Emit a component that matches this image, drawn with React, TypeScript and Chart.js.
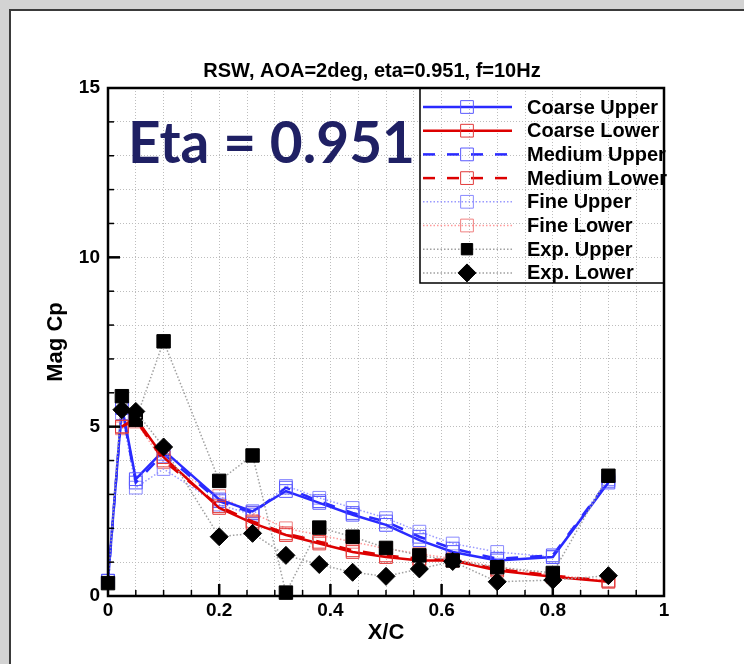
import React, { useEffect, useRef } from 'react';
import { Chart, registerables } from 'chart.js';

Chart.register(...registerables);

const W = 744;
const H = 664;

// ---- data ----
const xUpper = [0, 0.025, 0.05, 0.1, 0.2, 0.26, 0.32, 0.38, 0.44, 0.5, 0.56, 0.62, 0.7, 0.8, 0.9];
const xLower = [0.025, 0.05, 0.1, 0.2, 0.26, 0.32, 0.38, 0.44, 0.5, 0.56, 0.62, 0.7, 0.8, 0.9];

const coarseUpper = [0.45, 5.6, 3.45, 4.3, 2.85, 2.5, 3.1, 2.75, 2.4, 2.1, 1.65, 1.3, 1.05, 1.15, 3.35];
const mediumUpper = [0.45, 5.55, 3.35, 4.2, 2.8, 2.45, 3.2, 2.8, 2.45, 2.2, 1.75, 1.4, 1.1, 1.2, 3.4];
const fineUpper = [0.45, 5.4, 3.2, 3.75, 2.7, 2.4, 3.25, 2.9, 2.6, 2.3, 1.9, 1.55, 1.3, 1.15, 3.45];

const coarseLower = [5.0, 5.25, 4.1, 2.6, 2.15, 1.8, 1.55, 1.3, 1.15, 1.05, 1.05, 0.75, 0.57, 0.42];
const mediumLower = [5.0, 5.2, 4.0, 2.65, 2.2, 1.85, 1.6, 1.35, 1.2, 1.1, 1.05, 0.8, 0.6, 0.45];
const fineLower = [4.95, 5.15, 3.95, 2.95, 2.45, 2.0, 1.8, 1.6, 1.4, 1.25, 1.1, 0.85, 0.62, 0.45];

const expUpper = [0.38, 5.9, 5.2, 7.52, 3.4, 4.15, 0.1, 2.02, 1.75, 1.42, 1.2, 1.05, 0.85, 0.68, 3.55];
const expLower = [5.5, 5.45, 4.4, 1.75, 1.85, 1.2, 0.93, 0.7, 0.58, 0.8, 1.02, 0.42, 0.47, 0.6];

const xTickLabels = ['0', '0.2', '0.4', '0.6', '0.8', '1'];
const yTickLabels = ['0', '5', '10', '15'];

const titleText = 'RSW, AOA=2deg, eta=0.951, f=10Hz';
const etaText = 'Eta = 0.951';

// ---- styles ----
const BLUE = '#2a2aff';
const RED = '#dd0000';
const FONT = '"Liberation Sans", Arial, sans-serif';

const pts = (xs: number[], ys: number[]) => xs.map((x, i) => ({ x, y: ys[i] }));

function drawMarker(ctx: CanvasRenderingContext2D, style: string, x: number, y: number, r: number, stroke: string, fill: string, lw: number) {
  ctx.save();
  ctx.lineWidth = lw;
  ctx.strokeStyle = stroke;
  ctx.fillStyle = fill;
  ctx.setLineDash([]);
  ctx.beginPath();
  if (style === 'rectRot') {
    ctx.moveTo(x - r, y);
    ctx.lineTo(x, y - r);
    ctx.lineTo(x + r, y);
    ctx.lineTo(x, y + r);
    ctx.closePath();
  } else {
    const s = Math.SQRT1_2 * r;
    ctx.rect(x - s, y - s, 2 * s, 2 * s);
  }
  if (fill !== 'transparent') ctx.fill();
  ctx.stroke();
  ctx.restore();
}

const framePlugin = {
  id: 'frame',
  beforeDraw(chart: any) {
    const ctx = chart.ctx;
    ctx.save();
    ctx.fillStyle = '#d3d3d3';
    ctx.fillRect(0, 0, W, H);
    ctx.fillStyle = '#ffffff';
    ctx.fillRect(10, 10, W - 10, H - 10);
    ctx.strokeStyle = '#3a3a3a';
    ctx.lineWidth = 2;
    ctx.beginPath();
    ctx.moveTo(10, H);
    ctx.lineTo(10, 10);
    ctx.lineTo(W, 10);
    ctx.stroke();
    // title
    ctx.fillStyle = '#000';
    ctx.font = `bold 20px ${FONT}`;
    ctx.textAlign = 'center';
    ctx.textBaseline = 'alphabetic';
    ctx.fillText(titleText, 372, 77);
    ctx.restore();
  },
  beforeDatasetsDraw(chart: any) {
    const ctx = chart.ctx;
    ctx.save();
    ctx.font = 'bold 100px Lato, "Open Sans", sans-serif';
    const w100 = ctx.measureText(etaText).width;
    const size = (100 * 287) / w100;
    ctx.font = `bold ${size}px Lato, "Open Sans", sans-serif`;
    ctx.fillStyle = '#1f2064';
    ctx.textAlign = 'left';
    ctx.textBaseline = 'alphabetic';
    ctx.fillText(etaText, 128, 163);
    ctx.restore();
  },
  afterDatasetsDraw(chart: any) {
    const ctx = chart.ctx;
    const a = chart.chartArea;
    const xs = chart.scales.x;
    const ys = chart.scales.y;
    ctx.save();
    ctx.strokeStyle = '#000';
    ctx.setLineDash([]);
    // x ticks (inward)
    for (let i = 1; i < 20; i++) {
      const v = i * 0.05;
      const px = xs.getPixelForValue(v);
      const major = i % 4 === 0;
      ctx.lineWidth = major ? 2.5 : 1.5;
      ctx.beginPath();
      ctx.moveTo(px, a.bottom);
      ctx.lineTo(px, a.bottom - (major ? 12 : 6));
      ctx.stroke();
    }
    for (let i = 1; i < 15; i++) {
      const py = ys.getPixelForValue(i);
      const major = i % 5 === 0;
      ctx.lineWidth = major ? 2.5 : 1.5;
      ctx.beginPath();
      ctx.moveTo(a.left, py);
      ctx.lineTo(a.left + (major ? 12 : 6), py);
      ctx.stroke();
    }
    ctx.lineWidth = 2.5;
    ctx.strokeRect(a.left, a.top, a.right - a.left, a.bottom - a.top);
    ctx.restore();
  },
  afterDraw(chart: any) {
    const ctx = chart.ctx;
    const a = chart.chartArea;
    const left = 420;
    const bottom = 283;
    ctx.save();
    ctx.strokeStyle = '#000';
    ctx.lineWidth = 1.5;
    ctx.beginPath();
    ctx.moveTo(left, a.top);
    ctx.lineTo(left, bottom);
    ctx.lineTo(a.right, bottom);
    ctx.stroke();
    const dsets = chart.data.datasets;
    ctx.font = `bold 20px ${FONT}`;
    ctx.textAlign = 'left';
    ctx.textBaseline = 'middle';
    dsets.forEach((d: any, i: number) => {
      const y = 107 + i * 23.7;
      ctx.save();
      ctx.strokeStyle = d.borderColor;
      ctx.lineWidth = d.borderWidth;
      ctx.setLineDash(d.borderDash || []);
      ctx.beginPath();
      ctx.moveTo(423, y);
      ctx.lineTo(512, y);
      ctx.stroke();
      ctx.restore();
      drawMarker(ctx, d.pointStyle, 467, y, d.legendRadius, d.pointBorderColor, d.pointBackgroundColor, d.pointBorderWidth);
      ctx.fillStyle = '#000';
      ctx.fillText(d.label, 527, y + 1);
    });
    ctx.restore();
  },
};

export default function App() {
  const ref = useRef<HTMLCanvasElement | null>(null);

  useEffect(() => {
    if (!ref.current) return;
    const common = { showLine: true, clip: false as any, fill: false, tension: 0 };
    const chart = new Chart(ref.current, {
      type: 'scatter',
      data: {
        datasets: [
          { ...common, label: 'Coarse Upper', data: pts(xUpper, coarseUpper), borderColor: BLUE, borderWidth: 2.5, pointStyle: 'rect', pointRadius: 9, pointBorderColor: '#5a5aff', pointBackgroundColor: 'transparent', pointBorderWidth: 1, legendRadius: 9, order: 5 } as any,
          { ...common, label: 'Coarse Lower', data: pts(xLower, coarseLower), borderColor: RED, borderWidth: 2.5, pointStyle: 'rect', pointRadius: 9, pointBorderColor: '#e23a3a', pointBackgroundColor: 'transparent', pointBorderWidth: 1, legendRadius: 9, order: 4 } as any,
          { ...common, label: 'Medium Upper', data: pts(xUpper, mediumUpper), borderColor: BLUE, borderWidth: 2.5, borderDash: [12, 12], pointStyle: 'rect', pointRadius: 9, pointBorderColor: '#5a5aff', pointBackgroundColor: 'transparent', pointBorderWidth: 1, legendRadius: 9, order: 5 } as any,
          { ...common, label: 'Medium Lower', data: pts(xLower, mediumLower), borderColor: RED, borderWidth: 2.5, borderDash: [12, 12], pointStyle: 'rect', pointRadius: 9, pointBorderColor: '#e23a3a', pointBackgroundColor: 'transparent', pointBorderWidth: 1, legendRadius: 9, order: 4 } as any,
          { ...common, label: 'Fine Upper', data: pts(xUpper, fineUpper), borderColor: '#9a9aff', borderWidth: 1.5, borderDash: [1.5, 2], pointStyle: 'rect', pointRadius: 9, pointBorderColor: '#8a8aff', pointBackgroundColor: 'transparent', pointBorderWidth: 1, legendRadius: 9, order: 6 } as any,
          { ...common, label: 'Fine Lower', data: pts(xLower, fineLower), borderColor: '#ff9a9a', borderWidth: 1.5, borderDash: [1.5, 2], pointStyle: 'rect', pointRadius: 9, pointBorderColor: '#f08080', pointBackgroundColor: 'transparent', pointBorderWidth: 1, legendRadius: 9, order: 6 } as any,
          { ...common, label: 'Exp. Upper', data: pts(xUpper, expUpper), borderColor: '#a0a0a0', borderWidth: 1.5, borderDash: [1.5, 2], pointStyle: 'rect', pointRadius: 9.5, pointBorderColor: '#000', pointBackgroundColor: '#000', pointBorderWidth: 1, legendRadius: 8, order: 1 } as any,
          { ...common, label: 'Exp. Lower', data: pts(xLower, expLower), borderColor: '#a0a0a0', borderWidth: 1.5, borderDash: [1.5, 2], pointStyle: 'rectRot', pointRadius: 9, pointBorderColor: '#000', pointBackgroundColor: '#000', pointBorderWidth: 1, legendRadius: 9, order: 0 } as any,
        ],
      },
      options: {
        animation: false,
        responsive: false,
        events: [],
        layout: { padding: { top: 88, right: 80, left: 0, bottom: 0 } },
        plugins: { legend: { display: false }, tooltip: { enabled: false }, title: { display: false } },
        scales: {
          x: {
            type: 'linear',
            min: 0,
            max: 1,
            afterFit: (s: any) => { s.height = 68; },
            border: { display: false, dash: [1, 2] },
            grid: { color: '#bdbdbd', lineWidth: 1, drawTicks: false },
            ticks: {
              stepSize: 0.05,
              autoSkip: false,
              maxRotation: 0,
              padding: 3,
              color: '#000',
              font: { family: FONT, size: 19, weight: 'bold' },
              callback: (v: any) => {
                const s = String(Math.round(Number(v) * 100) / 100);
                return xTickLabels.includes(s) ? s : '';
              },
            },
            title: { display: true, text: 'X/C', color: '#000', font: { family: FONT, size: 22, weight: 'bold' }, padding: { top: 0, bottom: 18 } },
          },
          y: {
            type: 'linear',
            min: 0,
            max: 15,
            afterFit: (s: any) => { s.width = 108; },
            border: { display: false, dash: [1, 2] },
            grid: { color: '#bdbdbd', lineWidth: 1, drawTicks: false },
            ticks: {
              stepSize: 1,
              autoSkip: false,
              padding: 8,
              color: '#000',
              font: { family: FONT, size: 19, weight: 'bold' },
              callback: (v: any) => {
                const s = String(Math.round(Number(v)));
                return yTickLabels.includes(s) ? s : '';
              },
            },
            title: { display: true, text: 'Mag Cp', color: '#000', font: { family: FONT, size: 22, weight: 'bold' }, padding: { top: 43, bottom: 0 } },
          },
        },
      } as any,
      plugins: [framePlugin as any],
    });
    return () => chart.destroy();
  }, []);

  return (
    <canvas
      ref={ref}
      width={W}
      height={H}
      style={{ position: 'fixed', left: 0, top: 0, width: W, height: H }}
    />
  );
}
